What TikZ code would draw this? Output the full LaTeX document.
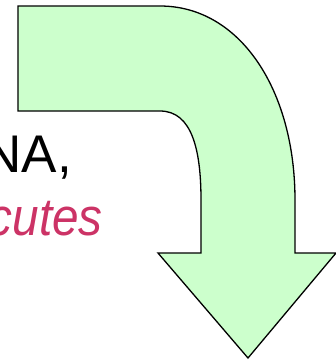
\documentclass[tikz,border=0pt]{standalone}
\usepackage{fontspec}
\setmainfont{Liberation Sans}
\newfontfamily\narrowital[FakeStretch=0.9]{Liberation Sans Italic}
\definecolor{arrowgreen}{HTML}{CCFFCC}
\definecolor{pinkred}{HTML}{CC3366}
\begin{document}
\begin{tikzpicture}[x=1pt,y=-1pt,
  bigarrow/.style={draw=black,fill=arrowgreen,line width=1.3pt,line join=miter},
  bigtext/.style={font=\fontsize{53}{60}\selectfont,inner sep=0pt}]
\useasboundingbox (0,0) rectangle (336,360);
\path[bigarrow] (18,6) -- (160,6)
  .. controls (240,6) and (295,90) .. (295,200)
  -- (295,253) -- (336,253) -- (248,358) -- (158,253) -- (201,253)
  -- (201,200)
  .. controls (201,150) and (192,111) .. (160,111)
  -- (18,111) -- cycle;
\node[bigtext,anchor=base east] (na) at (72,172) {NA,};
\node[bigtext,anchor=base east,text=pinkred] (cu) at (103,235) {\narrowital cutes};
\end{tikzpicture}
\end{document}
